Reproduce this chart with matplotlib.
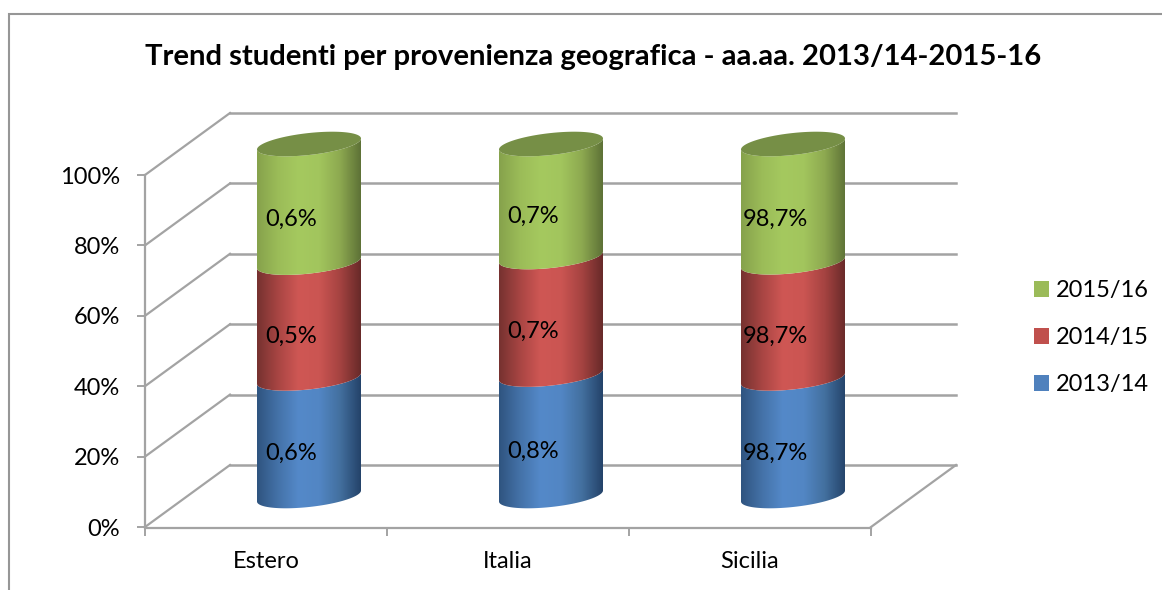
import numpy as np
import matplotlib
matplotlib.use("Agg")
import matplotlib.pyplot as plt
from matplotlib.colors import LinearSegmentedColormap
from matplotlib.patches import Polygon, Rectangle
from matplotlib.transforms import Affine2D

categories = ["Estero", "Italia", "Sicilia"]
series_names = ["2013/14", "2014/15", "2015/16"]
share_2013_14 = [33.4, 34.5, 33.4]
share_2014_15 = [32.9, 33.4, 33.0]
share_2015_16 = [33.7, 32.1, 33.6]
labels_2013_14 = ["0,6%", "0,8%", "98,7%"]
labels_2014_15 = ["0,5%", "0,7%", "98,7%"]
labels_2015_16 = ["0,6%", "0,7%", "98,7%"]
title = "Trend studenti per provenienza geografica - aa.aa. 2013/14-2015-16"
yticks = [0, 20, 40, 60, 80, 100]

W, H = 1162, 590
FONT = "Lato"
FS = 17
GRID = "#a3a3a3"
fig = plt.figure(figsize=(W / 100, H / 100), dpi=100)


def px_rect(x0, y_top, x1, y_bot):
    return [x0 / W, 1 - y_bot / H, (x1 - x0) / W, (y_bot - y_top) / H]


# chart frame
ov = fig.add_axes([0, 0, 1, 1], zorder=0)
ov.set_xlim(0, W)
ov.set_ylim(H, 0)
ov.axis("off")
ov.plot([9, 9, W], [H, 13.5, 13.5], color="#969696", lw=1.5, solid_joinstyle="miter")

ax = fig.add_axes(px_rect(145, 175, 871, 527), zorder=1)
ax.set_xlim(-0.5, 2.5)
ax.set_ylim(0, 100)
ax.patch.set_alpha(0)
for s in ("top", "right"):
    ax.spines[s].set_visible(False)
for s in ("left", "bottom"):
    ax.spines[s].set_color(GRID)
    ax.spines[s].set_linewidth(1.6)
ax.spines["bottom"].set_position(("outward", 1))

ax.set_yticks(yticks)
ax.set_yticklabels([f"{v}%" for v in yticks], fontsize=FS, family=FONT, color="black")
ax.set_xticks([-0.5, 0.5, 1.5, 2.5])
ax.set_xticklabels([])
ax.tick_params(axis="both", color=GRID, width=1.4, length=6)
ax.tick_params(axis="y", pad=12)
for i, c in enumerate(categories):
    ax.annotate(c, (i, 0), xytext=(0, -35), textcoords="offset pixels", ha="center", va="center",
                fontsize=FS, family=FONT, annotation_clip=False)

# depth: pixel offsets applied after the data transform
back_t = ax.transData + Affine2D().translate(85, 62)
mid_t = ax.transData + Affine2D().translate(43, 31)
DX, DY = 85, 62


def diagonal(x_val, y_val):
    x0, y0 = ax.transData.transform((x_val, y_val))
    inv = fig.transFigure.inverted()
    p0 = inv.transform((x0, y0))
    p1 = inv.transform((x0 + DX, y0 + DY))
    ax.plot([p0[0], p1[0]], [p0[1], p1[1]], transform=fig.transFigure, color=GRID,
            lw=1.6, clip_on=False, zorder=1)


for v in yticks:
    ax.plot([-0.5, 2.5], [v, v], transform=back_t, color=GRID, lw=1.8, clip_on=False, zorder=1)
    diagonal(-0.5, v)
diagonal(2.5, 0)

# cylinders
half_w = 52 / 242          # category units
tilt = 5.5 / 3.52          # percent units
rise = 11 / 3.52           # percent units
ramps = [
    ["#2f5480", "#4472a8", "#5489c9", "#5286c4", "#43709f", "#24436a"],
    ["#763230", "#a84543", "#cf5754", "#cb5552", "#a54341", "#682a29"],
    ["#86a24c", "#9bbc58", "#a5c95f", "#a2c55d", "#8da950", "#5e7237"],
]
cap_color = "#768f46"
stack = np.array([share_2013_14, share_2014_15, share_2015_16])
texts = [labels_2013_14, labels_2014_15, labels_2015_16]
t = np.linspace(0, np.pi, 80)          # front arc, right to left
for i in range(len(categories)):
    base = 0.0
    for k in range(3):
        top = base + stack[k, i]
        xa = i + half_w * np.cos(t)
        arc = tilt * np.cos(t) - rise * np.sin(t)
        verts = np.r_[np.c_[xa, top + arc], np.c_[xa, base + arc][::-1]]
        clip = Polygon(verts, closed=True, transform=mid_t, fc="none", ec="none", clip_on=False)
        ax.add_patch(clip)
        cmap = LinearSegmentedColormap.from_list("c", ramps[k])
        im = ax.imshow(np.linspace(0, 1, 200)[None, :], cmap=cmap, aspect="auto",
                       extent=(i - half_w, i + half_w, base - 6, top + 6),
                       transform=mid_t, zorder=3)
        im.set_clip_box(fig.bbox)
        im.set_clip_path(clip)
        ax.annotate(texts[k][i], (i, (base + top) / 2), xycoords=mid_t,
                    xytext=(-18, -16), textcoords="offset pixels", va="center", ha="center",
                    fontsize=FS, family=FONT, zorder=5, annotation_clip=False)
        base = top
    tt = np.linspace(0, 2 * np.pi, 160)
    cap = Polygon(np.c_[i + half_w * np.cos(tt), base + tilt * np.cos(tt) + rise * np.sin(tt)],
                  closed=True, transform=mid_t, fc=cap_color, ec="none", zorder=4, clip_on=False)
    ax.add_patch(cap)
ax.set_xlim(-0.5, 2.5)
ax.set_ylim(0, 100)

# legend
handles = [Rectangle((0, 0), 1, 1, fc=c) for c in ["#9bbb59", "#c0504d", "#4f81bd"]]
fig.legend(handles, series_names[::-1], loc="upper left", bbox_to_anchor=(1034 / W, 1 - 280 / H),
           frameon=False, prop={"family": FONT, "size": FS},
           handlelength=0.64, handleheight=0.64, handletextpad=0.3, labelspacing=1.11,
           borderpad=0, borderaxespad=0)

fig.text(593 / W, 1 - 57 / H, title, ha="center", va="center", fontsize=21.1, fontweight="bold", family=FONT)
fig.savefig("out.png", dpi=100)
